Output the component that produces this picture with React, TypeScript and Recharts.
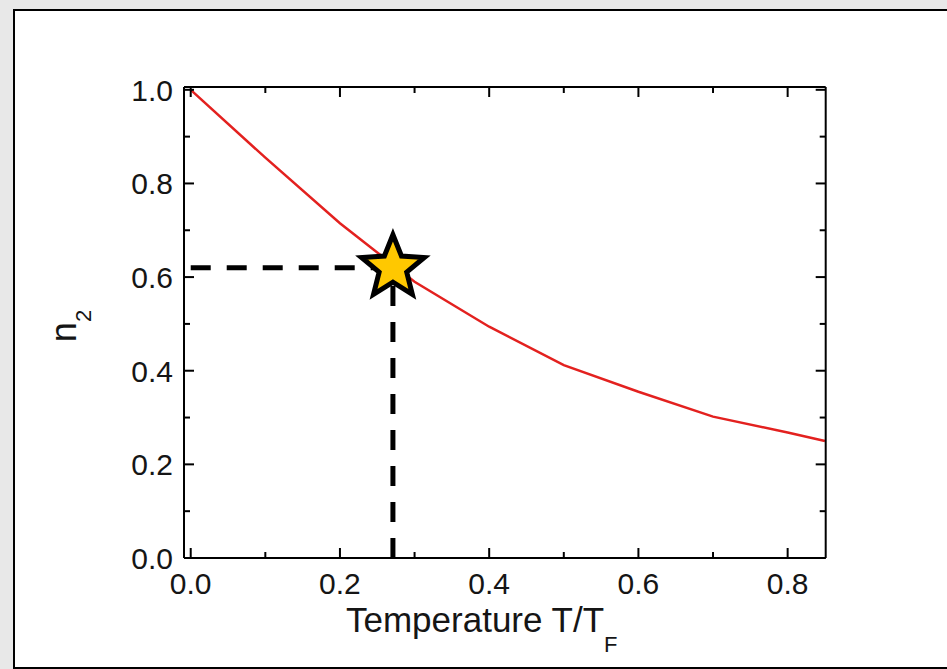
import React from "react";
import {
  ComposedChart,
  Line,
  XAxis,
  YAxis,
  Scatter,
  ReferenceLine,
  Label,
} from "recharts";

// ---- data ----
const temperature = [0, 0.1, 0.2, 0.3, 0.4, 0.5, 0.6, 0.7, 0.8, 0.85];
const n2Values = [1.0, 0.855, 0.715, 0.59, 0.494, 0.412, 0.355, 0.302, 0.268, 0.25];
const starPoint = [{ t: 0.271, n: 0.62 }];
const xTicks = [0, 0.1, 0.2, 0.3, 0.4, 0.5, 0.6, 0.7, 0.8];
const yTicks = [0, 0.1, 0.2, 0.3, 0.4, 0.5, 0.6, 0.7, 0.8, 0.9, 1.0];
const xDomain = [-0.009, 0.851];
const yDomain = [0, 1.006];

const curve = temperature.map((t, i) => ({ t, n: n2Values[i] }));

const FONT = "'Liberation Sans', Arial, Helvetica, sans-serif";
const TXT = "#151515";
const isMajor = (v: number) => Math.round(v * 10) % 2 === 0;
const MAJ = 10;
const MIN = 6;

const BottomTick = (props: any) => {
  const { x, y, payload } = props;
  const v = payload.value;
  const major = isMajor(v);
  return (
    <g>
      <line x1={x} x2={x} y1={y} y2={y - (major ? MAJ : MIN)} stroke="#000" strokeWidth={2} />
      {major && (
        <text x={x} y={y + 36} textAnchor="middle" fontSize={30} fontFamily={FONT} fill={TXT}>
          {v.toFixed(1)}
        </text>
      )}
    </g>
  );
};

const TopTick = (props: any) => {
  const { x, y, payload } = props;
  const major = isMajor(payload.value);
  return <line x1={x} x2={x} y1={y} y2={y + (major ? MAJ : MIN)} stroke="#000" strokeWidth={2} />;
};

const LeftTick = (props: any) => {
  const { x, y, payload } = props;
  const v = payload.value;
  const major = isMajor(v);
  return (
    <g>
      <line x1={x} x2={x + (major ? MAJ : MIN)} y1={y} y2={y} stroke="#000" strokeWidth={2} />
      {major && (
        <text x={x - 11} y={y + 11} textAnchor="end" fontSize={30} fontFamily={FONT} fill={TXT}>
          {v.toFixed(1)}
        </text>
      )}
    </g>
  );
};

const RightTick = (props: any) => {
  const { x, y, payload } = props;
  const major = isMajor(payload.value);
  return <line x1={x} x2={x - (major ? MAJ : MIN)} y1={y} y2={y} stroke="#000" strokeWidth={2} />;
};

const starPath = (cx: number, cy: number, R: number, r: number) => {
  const pts: string[] = [];
  for (let i = 0; i < 10; i++) {
    const rad = i % 2 === 0 ? R : r;
    const a = -Math.PI / 2 + (i * Math.PI) / 5;
    pts.push(`${(cx + rad * Math.cos(a)).toFixed(2)},${(cy + rad * Math.sin(a)).toFixed(2)}`);
  }
  return "M" + pts.join("L") + "Z";
};

const StarShape = (props: any) => {
  const { cx, cy } = props;
  return (
    <path
      d={starPath(cx, cy, 33, 14.5)}
      fill="#FFC800"
      stroke="#000"
      strokeWidth={5}
      strokeLinejoin="miter"
    />
  );
};

const XTitle = () => (
  <text x={346} y={632} fontSize={35} fontFamily={FONT} fill={TXT}>
    Temperature T/T
    <tspan fontSize={22} dy={20}>F</tspan>
  </text>
);

const YTitle = () => {
  const cx = 76;
  const cy = 326;
  return (
    <text
      x={cx}
      y={cy}
      transform={`rotate(-90, ${cx}, ${cy})`}
      textAnchor="middle"
      fontSize={36}
      fontFamily={FONT}
      fill={TXT}
    >
      n
      <tspan fontSize={22} dy={15}>2</tspan>
    </text>
  );
};

export default function App() {
  return (
    <div
      style={{
        position: "fixed",
        left: 0,
        top: 0,
        width: 947,
        height: 669,
        background: "#e8e8e8",
        overflow: "hidden",
      }}
    >
      <div
        style={{
          position: "absolute",
          left: 12.5,
          top: 8.5,
          width: 960,
          height: 660.5,
          boxSizing: "border-box",
          border: "2.5px solid #000",
          background: "#fff",
        }}
      />
      <div style={{ position: "absolute", left: 0, top: 0 }}>
        <ComposedChart
          width={947}
          height={669}
          data={curve}
          margin={{ top: 86, right: 120.3, bottom: 51, left: 124 }}
        >
          <XAxis
            xAxisId="bottom"
            dataKey="t"
            type="number"
            orientation="bottom"
            domain={xDomain}
            ticks={xTicks}
            interval={0}
            allowDataOverflow
            height={60}
            tickLine={false}
            tickSize={0}
            tickMargin={0}
            tick={<BottomTick />}
            axisLine={{ stroke: "#000", strokeWidth: 2 }}
          >
            <Label content={<XTitle />} />
          </XAxis>
          <XAxis
            xAxisId="top"
            dataKey="t"
            type="number"
            orientation="top"
            domain={xDomain}
            ticks={xTicks}
            interval={0}
            allowDataOverflow
            height={1}
            tickLine={false}
            tickSize={0}
            tickMargin={0}
            tick={<TopTick />}
            axisLine={{ stroke: "#000", strokeWidth: 2 }}
          />
          <YAxis
            yAxisId="left"
            type="number"
            orientation="left"
            domain={yDomain}
            ticks={yTicks}
            interval={0}
            allowDataOverflow
            width={60}
            tickLine={false}
            tickSize={0}
            tickMargin={0}
            tick={<LeftTick />}
            axisLine={{ stroke: "#000", strokeWidth: 2 }}
          >
            <Label content={<YTitle />} />
          </YAxis>
          <YAxis
            yAxisId="right"
            type="number"
            orientation="right"
            domain={yDomain}
            ticks={yTicks}
            interval={0}
            allowDataOverflow
            width={1}
            tickLine={false}
            tickSize={0}
            tickMargin={0}
            tick={<RightTick />}
            axisLine={{ stroke: "#000", strokeWidth: 2 }}
          />
          <ReferenceLine
            xAxisId="bottom"
            yAxisId="left"
            segment={[
              { x: 0, y: starPoint[0].n },
              { x: starPoint[0].t, y: starPoint[0].n },
            ]}
            stroke="#000"
            strokeWidth={5}
            strokeDasharray="20 16"
            ifOverflow="visible"
          />
          <ReferenceLine
            xAxisId="bottom"
            yAxisId="left"
            segment={[
              { x: starPoint[0].t, y: 0 },
              { x: starPoint[0].t, y: starPoint[0].n },
            ]}
            stroke="#000"
            strokeWidth={5}
            strokeDasharray="20 16"
            ifOverflow="visible"
          />
          <Line
            xAxisId="bottom"
            yAxisId="left"
            dataKey="n"
            type="linear"
            stroke="#e3211f"
            strokeWidth={2.5}
            dot={false}
            activeDot={false}
            isAnimationActive={false}
          />
          <Scatter
            xAxisId="bottom"
            yAxisId="left"
            data={starPoint}
            dataKey="n"
            shape={<StarShape />}
            isAnimationActive={false}
          />
        </ComposedChart>
      </div>
    </div>
  );
}
